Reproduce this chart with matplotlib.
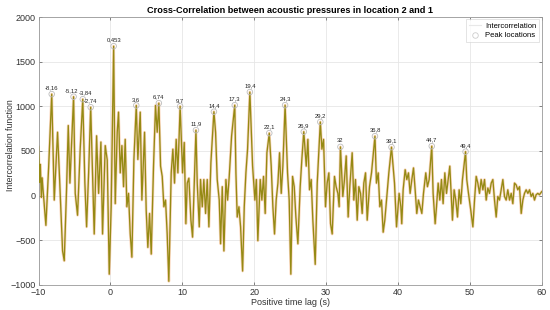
import matplotlib
matplotlib.use("Agg")
import matplotlib.pyplot as plt
from matplotlib.lines import Line2D

plt.rcParams['font.family'] = ['Liberation Sans', 'DejaVu Sans']

# Time lag (s) and intercorrelation values (extrema only)
lag = [
    -10.0, -9.85, -9.75, -9.6, -9.5, -9.35, -8.97, -8.6, -8.16, -7.81, -7.35, -7.1, -6.65, -6.42,
    -6.1, -5.86, -5.63, -5.12, -4.89, -4.57, -4.2, -3.84, -3.55, -3.31, -3.03, -2.74, -2.48,
    -2.25, -1.92, -1.64, -1.32, -1.09, -0.72, -0.44, -0.16, 0.11, 0.453, 0.67, 0.95, 1.13,
    1.37, 1.6, 1.83, 2.06, 2.29, 2.52, 2.76, 2.99, 3.27, 3.6, 3.82, 4.15, 4.38, 4.75, 4.98,
    5.21, 5.45, 5.68, 6.0, 6.28, 6.51, 6.74, 6.98, 7.21, 7.44, 7.67, 7.9, 8.13, 8.46, 8.69,
    8.92, 9.15, 9.39, 9.7, 10.04, 10.27, 10.5, 10.69, 10.92, 11.2, 11.43, 11.9, 12.08, 12.36,
    12.54, 12.78, 13.0, 13.24, 13.47, 13.7, 13.98, 14.4, 14.63, 14.86, 15.14, 15.33, 15.56,
    15.79, 16.07, 16.3, 16.53, 16.86, 17.3, 17.46, 17.64, 17.88, 18.11, 18.39, 18.62, 18.85,
    19.08, 19.4, 19.78, 20.1, 20.3, 20.51, 20.84, 21.07, 21.3, 21.53, 21.77, 22.1, 22.37,
    22.6, 22.83, 23.06, 23.3, 23.53, 23.76, 23.99, 24.3, 24.64, 24.87, 25.1, 25.34, 25.57,
    25.8, 26.08, 26.4, 26.63, 26.9, 27.24, 27.47, 27.7, 27.93, 28.16, 28.49, 28.77, 29.2,
    29.42, 29.65, 29.92, 30.15, 30.39, 30.62, 30.85, 31.17, 31.4, 31.64, 31.82, 32.0, 32.33,
    32.56, 32.8, 33.07, 33.3, 33.63, 33.86, 34.09, 34.33, 34.56, 34.79, 35.02, 35.25, 35.49,
    35.72, 36.04, 36.32, 36.8, 37.01, 37.25, 37.48, 37.71, 37.94, 38.17, 38.41, 38.73, 39.1,
    39.52, 39.8, 40.16, 40.4, 40.53, 40.72, 41.0, 41.23, 41.46, 41.69, 41.93, 42.16, 42.39,
    42.62, 42.85, 43.08, 43.32, 43.55, 43.87, 44.1, 44.34, 44.7, 44.89, 45.17, 45.36, 45.59,
    45.82, 46.05, 46.28, 46.52, 46.75, 46.98, 47.21, 47.44, 47.58, 47.81, 48.04, 48.28, 48.51,
    48.74, 48.97, 49.4, 49.57, 49.81, 50.13, 50.42, 50.65, 50.88, 51.11, 51.34, 51.57, 51.81,
    52.04, 52.27, 52.5, 52.73, 52.97, 53.2, 53.43, 53.66, 53.89, 54.12, 54.36, 54.59, 54.82,
    55.05, 55.28, 55.52, 55.75, 55.98, 56.21, 56.44, 56.67, 56.91, 57.14, 57.37, 57.6, 57.83,
    58.07, 58.3, 58.53, 58.76, 58.99, 59.22, 59.45, 59.68, 60.0,
]
xcorr = [
    550, 150, 350, -20, 200, 50, -333, 300, 1137, -50, 710, 250, -620, -730,
    65, 785, 140, 1108, 25, -220, 520, 1080, 140, -350, 250, 990, 250,
    -430, 670, 25, 600, -430, 560, 400, -880, -125, 1674, -90, 710, 935,
    255, 560, 100, 630, -125, 25, -430, -690, 405, 1010, 405, 935, -50, 710, -165,
    -580, -200, -655, 330, 1010, 710, 1036, 330, 215, -125, -50, -430, -960, 255, 520,
    140, 630, 255, 1000, 255, 595, -315, 140, 195, -275, -465, 733, 140, -350,
    180, -125, 180, -200, 180, -350, 370, 940, 710, 180, -50, -540, 100,
    -620, 180, -50, 215, 670, 1013, 255, -240, -125, -350, -845, -125, 255,
    520, 1160, 330, -50, 180, -505, 180, -50, 215, -200, 480, 700, 330,
    -125, -430, -50, 140, 480, 25, 330, 1013, 255, -50, -880, 215, 100,
    -240, -540, 100, 405, 716, 330, 630, 65, 180, -275, -770, 140, 825,
    520, 630, -125, 140, 255, -315, -430, 215, 100, 25, -125, 546, -10,
    180, 445, -240, 100, 480, -50, 180, -275, 100, 25, -200, 140, 255,
    -275, 100, 255, 666, 140, 255, -125, -50, -410, -275, -50, 255, 543,
    140, -350, 25, -125, -315, 65, 290, 180, 255, 25, 180, 310, 65,
    -200, -50, -125, -200, 25, 255, 100, 180, 554, 25, -315, -125, 140,
    -50, 180, -90, 255, 25, 180, 330, -50, -275, 65, -50, -240, 65,
    -90, 180, 492, 180, 25, -165, -350, -50, 215, 140, 25, 180, 65,
    180, -50, 85, 25, 140, 180, -50, -240, -10, -50, 65, 180, -10,
    -50, 65, -50, 25, -90, 140, 120, 65, 100, -200, -50, 25, 65,
    25, 65, -10, 25, -50, 10, 25, 10, 45,
]

# Detected peaks: lag (s), value, and annotation text
peak_lag = [-8.16, -5.12, -3.84, -2.74, 0.453, 3.6, 6.74, 9.7, 11.9, 14.4, 17.3, 19.4,
            22.1, 24.3, 26.9, 29.2, 32.0, 36.8, 39.1, 44.7, 49.4]
peak_val = [1137, 1108, 1080, 990, 1674, 1010, 1036, 1000, 733, 940, 1013, 1160,
            700, 1013, 716, 825, 546, 666, 543, 554, 492]
peak_text = ['-8,16', '-5,12', '-3,84', '-2,74', '0,453', '3,6', '6,74', '9,7', '11,9', '14,4',
             '17,3', '19,4', '22,1', '24,3', '26,9', '29,2', '32', '36,8', '39,1', '44,7', '49,4']

x_ticks = [-10, 0, 10, 20, 30, 40, 50, 60]
y_ticks = [-1000, -500, 0, 500, 1000, 1500, 2000]

fig = plt.figure(figsize=(5.5, 3.1), dpi=100)
ax = fig.add_axes([0.070, 0.081, 0.915, 0.864])

ax.plot(lag, xcorr, color='#f4a46a', lw=2.0, alpha=0.45, zorder=2)
ax.plot(lag, xcorr, color='#958a14', lw=0.95, zorder=3)
ax.scatter(peak_lag, peak_val, s=16, facecolors='none', edgecolors='#bdbdbd',
           linewidths=0.6, zorder=4)
nudge = {'-5,12': -1.6, '-3,84': 1.8}
for t, v, s in zip(peak_lag, peak_val, peak_text):
    ax.annotate(s, (t, v), xytext=(nudge.get(s, 0), 2.5), textcoords='offset points',
                ha='center', va='bottom', fontsize=4.2, color='#222222', zorder=5)

ax.set_xlim(-10, 60)
ax.set_ylim(-1000, 2000)
ax.set_xticks(x_ticks)
ax.set_yticks(y_ticks)
ax.tick_params(direction='in', length=2.5, width=0.5, labelsize=6.5, colors='#555555',
               top=True, right=True, labelcolor='#333333', pad=2)
ax.grid(True, color='#e6e6e6', lw=0.6, zorder=0)
ax.set_axisbelow(True)
for sp in ax.spines.values():
    sp.set_color('#999999')
    sp.set_linewidth(0.6)

ax.set_title('Cross-Correlation between acoustic pressures in location 2 and 1',
             fontsize=6.6, fontweight='bold', pad=3)
ax.set_xlabel('Positive time lag (s)', fontsize=6.5, labelpad=1, color='#333333')
ax.set_ylabel('Intercorrelation function', fontsize=6.3, color='#333333')
ax.yaxis.set_label_coords(-0.046, 0.52)

h1 = Line2D([], [], color='#e8e8e8', lw=0.8)
h2 = Line2D([], [], marker='o', ls='none', mfc='none', mec='#cccccc', ms=4, mew=0.6)
leg = ax.legend([h1, h2], ['Intercorrelation', 'Peak locations'], loc='upper right',
                fontsize=5.5, frameon=True, fancybox=False, borderpad=0.4,
                handlelength=1.6, handletextpad=0.5, labelspacing=0.3, borderaxespad=0.3)
leg.get_frame().set_edgecolor('#cfcfcf')
leg.get_frame().set_linewidth(0.5)

fig.savefig('out.png', dpi=100)
